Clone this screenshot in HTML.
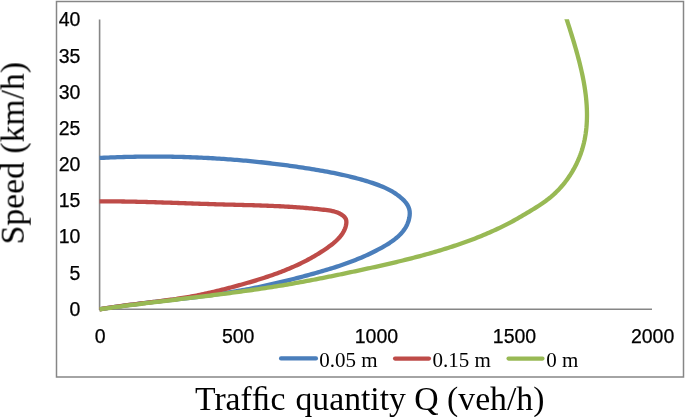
<!DOCTYPE html>
<html><head><meta charset="utf-8"><style>
html,body{margin:0;padding:0;background:#fff;width:685px;height:417px;overflow:hidden}
svg{display:block;will-change:transform}
.t{font-family:"Liberation Sans",sans-serif;font-size:19.5px;fill:#000;stroke:#000;stroke-width:0.25px}
.s{font-family:"Liberation Serif",serif;font-size:21px;fill:#000}
.ti{font-family:"Liberation Serif",serif;font-size:33.7px;fill:#000}
.c{fill:none;stroke-width:4.3;stroke-linecap:butt;stroke-linejoin:round}
.l{fill:none;stroke-width:4.1;stroke-linecap:round}
</style></head><body>
<svg width="685" height="417" viewBox="0 0 685 417">
<rect x="56.5" y="1.5" width="627" height="375.5" fill="#fff" stroke="#868686" stroke-width="1.5"/>
<path d="M99.6 19.5V309.2H652" fill="none" stroke="#868686" stroke-width="1.6"/>
<text x="80.4" y="315.8" text-anchor="end" class="t">0</text>
<text x="80.4" y="279.6" text-anchor="end" class="t">5</text>
<text x="80.4" y="243.4" text-anchor="end" class="t">10</text>
<text x="80.4" y="207.2" text-anchor="end" class="t">15</text>
<text x="80.4" y="171.1" text-anchor="end" class="t">20</text>
<text x="80.4" y="134.9" text-anchor="end" class="t">25</text>
<text x="80.4" y="98.7" text-anchor="end" class="t">30</text>
<text x="80.4" y="62.5" text-anchor="end" class="t">35</text>
<text x="80.4" y="26.3" text-anchor="end" class="t">40</text>
<text x="100.1" y="343.4" text-anchor="middle" class="t">0</text>
<text x="238.2" y="343.4" text-anchor="middle" class="t">500</text>
<text x="376.4" y="343.4" text-anchor="middle" class="t">1000</text>
<text x="514.5" y="343.4" text-anchor="middle" class="t">1500</text>
<text x="652.6" y="343.4" text-anchor="middle" class="t">2000</text>
<defs><clipPath id="pa"><rect x="0" y="19.3" width="685" height="300"/></clipPath></defs><g clip-path="url(#pa)">
<path d="M99.50 309.35 L101.70 308.99 L103.90 308.64 L106.10 308.29 L108.30 307.95 L110.50 307.62 L112.70 307.29 L114.90 306.97 L117.10 306.65 L119.30 306.34 L121.50 306.04 L123.70 305.74 L125.90 305.44 L128.10 305.15 L130.30 304.86 L132.50 304.58 L134.71 304.30 L136.91 304.03 L139.11 303.75 L141.31 303.48 L143.51 303.22 L145.71 302.95 L147.92 302.69 L150.12 302.43 L152.32 302.18 L154.52 301.92 L156.72 301.67 L158.92 301.41 L161.13 301.16 L163.33 300.91 L165.53 300.66 L167.73 300.40 L169.93 300.15 L172.13 299.90 L174.33 299.65 L176.53 299.39 L178.73 299.14 L180.93 298.88 L183.13 298.63 L185.33 298.37 L187.53 298.11 L189.73 297.84 L191.93 297.58 L194.13 297.31 L196.33 297.04 L198.52 296.76 L200.72 296.48 L202.92 296.20 L205.11 295.91 L207.31 295.62 L209.51 295.33 L211.70 295.03 L213.89 294.73 L216.09 294.42 L218.28 294.10 L220.48 293.78 L222.67 293.45 L224.86 293.12 L227.05 292.78 L229.24 292.44 L231.43 292.09 L233.62 291.73 L235.81 291.36 L238.00 290.98 L240.19 290.60 L242.37 290.21 L244.56 289.81 L246.75 289.41 L248.93 288.99 L251.11 288.57 L253.30 288.14 L255.48 287.71 L257.66 287.26 L259.84 286.81 L262.01 286.35 L264.19 285.89 L266.37 285.42 L268.54 284.94 L270.71 284.45 L272.88 283.96 L275.05 283.46 L277.22 282.96 L279.38 282.45 L281.55 281.94 L283.71 281.41 L285.87 280.89 L288.02 280.35 L290.18 279.82 L292.33 279.27 L294.48 278.73 L296.63 278.17 L298.77 277.61 L300.92 277.05 L303.06 276.48 L305.20 275.91 L307.33 275.33 L309.46 274.75 L311.59 274.17 L313.72 273.58 L315.84 272.99 L317.96 272.39 L320.08 271.78 L322.19 271.17 L324.31 270.55 L326.41 269.93 L328.52 269.29 L330.62 268.65 L332.72 267.99 L334.81 267.33 L336.90 266.65 L338.99 265.96 L341.07 265.26 L343.15 264.55 L345.23 263.82 L347.30 263.07 L349.37 262.31 L351.44 261.54 L353.50 260.75 L355.56 259.94 L357.61 259.11 L359.66 258.27 L361.70 257.40 L363.74 256.52 L365.78 255.61 L367.81 254.68 L369.84 253.73 L371.87 252.76 L373.89 251.77 L375.90 250.75 L377.91 249.70 L379.92 248.63 L381.92 247.54 L383.91 246.41 L385.88 245.26 L387.83 244.07 L389.75 242.84 L391.63 241.57 L393.45 240.26 L395.22 238.90 L396.93 237.49 L398.57 236.03 L400.13 234.51 L401.60 232.94 L402.97 231.30 L404.24 229.60 L405.41 227.83 L406.45 225.99 L407.37 224.07 L408.16 222.08 L408.81 220.01 L409.30 217.85 L409.64 215.62 L409.77 213.36 L409.64 211.13 L409.20 208.99 L408.47 206.96 L407.48 205.03 L406.26 203.21 L404.86 201.48 L403.31 199.84 L401.65 198.29 L399.92 196.82 L398.15 195.44 L396.33 194.13 L394.47 192.90 L392.58 191.73 L390.65 190.63 L388.69 189.59 L386.70 188.60 L384.69 187.67 L382.66 186.78 L380.60 185.93 L378.53 185.13 L376.44 184.36 L374.34 183.62 L372.23 182.91 L370.11 182.22 L367.99 181.55 L365.86 180.90 L363.73 180.27 L361.60 179.65 L359.46 179.05 L357.32 178.46 L355.18 177.90 L353.03 177.34 L350.88 176.80 L348.72 176.28 L346.57 175.77 L344.41 175.27 L342.24 174.78 L340.08 174.31 L337.91 173.85 L335.74 173.40 L333.57 172.96 L331.39 172.53 L329.22 172.11 L327.04 171.70 L324.86 171.30 L322.68 170.91 L320.50 170.52 L318.31 170.15 L316.13 169.78 L313.94 169.41 L311.75 169.06 L309.56 168.70 L307.37 168.36 L305.18 168.02 L302.99 167.68 L300.80 167.35 L298.61 167.02 L296.41 166.70 L294.22 166.39 L292.02 166.08 L289.83 165.77 L287.63 165.47 L285.43 165.17 L283.23 164.88 L281.04 164.60 L278.84 164.32 L276.64 164.05 L274.44 163.78 L272.23 163.51 L270.03 163.25 L267.83 163.00 L265.63 162.75 L263.42 162.50 L261.22 162.26 L259.01 162.03 L256.81 161.80 L254.60 161.58 L252.40 161.36 L250.19 161.14 L247.98 160.94 L245.77 160.73 L243.56 160.53 L241.36 160.34 L239.15 160.15 L236.94 159.96 L234.73 159.79 L232.52 159.61 L230.30 159.44 L228.09 159.28 L225.88 159.12 L223.67 158.96 L221.45 158.81 L219.24 158.67 L217.03 158.53 L214.81 158.39 L212.60 158.26 L210.39 158.14 L208.17 158.02 L205.96 157.90 L203.74 157.79 L201.52 157.69 L199.31 157.59 L197.09 157.49 L194.88 157.40 L192.66 157.31 L190.44 157.23 L188.23 157.16 L186.01 157.08 L183.79 157.02 L181.57 156.95 L179.36 156.90 L177.14 156.84 L174.92 156.80 L172.70 156.75 L170.48 156.72 L168.26 156.68 L166.05 156.65 L163.83 156.63 L161.61 156.61 L159.39 156.59 L157.17 156.58 L154.95 156.58 L152.73 156.58 L150.52 156.58 L148.30 156.59 L146.08 156.61 L143.86 156.62 L141.64 156.65 L139.42 156.67 L137.20 156.71 L134.98 156.74 L132.77 156.78 L130.55 156.83 L128.33 156.88 L126.11 156.94 L123.89 157.00 L121.68 157.06 L119.46 157.13 L117.24 157.21 L115.02 157.28 L112.81 157.37 L110.59 157.45 L108.37 157.55 L106.15 157.64 L103.94 157.74 L101.72 157.85 L99.51 157.96" class="c" stroke="#4A7EBB"/>
<path d="M99.52 309.32 L101.25 309.01 L102.98 308.71 L104.71 308.42 L106.44 308.14 L108.18 307.86 L109.91 307.59 L111.65 307.33 L113.38 307.07 L115.12 306.82 L116.85 306.57 L118.59 306.32 L120.33 306.08 L122.06 305.85 L123.80 305.62 L125.54 305.39 L127.28 305.17 L129.02 304.94 L130.75 304.72 L132.49 304.51 L134.23 304.29 L135.97 304.08 L137.71 303.87 L139.45 303.66 L141.19 303.45 L142.93 303.24 L144.67 303.03 L146.41 302.83 L148.14 302.62 L149.88 302.41 L151.62 302.20 L153.36 301.99 L155.10 301.78 L156.83 301.56 L158.57 301.35 L160.31 301.13 L162.05 300.91 L163.78 300.68 L165.52 300.46 L167.25 300.23 L168.99 299.99 L170.72 299.75 L172.45 299.51 L174.19 299.26 L175.92 299.01 L177.65 298.75 L179.38 298.49 L181.11 298.22 L182.84 297.94 L184.57 297.66 L186.30 297.37 L188.02 297.08 L189.75 296.77 L191.47 296.46 L193.20 296.15 L194.92 295.82 L196.64 295.49 L198.36 295.14 L200.08 294.80 L201.80 294.44 L203.51 294.08 L205.23 293.71 L206.95 293.33 L208.66 292.95 L210.37 292.56 L212.08 292.17 L213.79 291.77 L215.50 291.36 L217.21 290.95 L218.92 290.53 L220.62 290.11 L222.32 289.69 L224.03 289.25 L225.73 288.82 L227.43 288.38 L229.13 287.93 L230.82 287.48 L232.52 287.03 L234.21 286.57 L235.91 286.11 L237.60 285.65 L239.29 285.18 L240.98 284.71 L242.66 284.24 L244.35 283.77 L246.03 283.29 L247.71 282.80 L249.40 282.32 L251.07 281.82 L252.75 281.33 L254.42 280.83 L256.10 280.32 L257.77 279.81 L259.43 279.29 L261.10 278.77 L262.76 278.24 L264.42 277.70 L266.08 277.16 L267.73 276.61 L269.38 276.05 L271.03 275.49 L272.67 274.92 L274.32 274.34 L275.95 273.75 L277.59 273.15 L279.22 272.54 L280.85 271.92 L282.47 271.30 L284.09 270.66 L285.71 270.01 L287.32 269.36 L288.93 268.69 L290.53 268.01 L292.13 267.32 L293.73 266.62 L295.32 265.90 L296.91 265.18 L298.49 264.44 L300.07 263.69 L301.64 262.92 L303.21 262.15 L304.77 261.35 L306.33 260.55 L307.88 259.73 L309.43 258.90 L310.97 258.05 L312.51 257.18 L314.04 256.31 L315.56 255.41 L317.08 254.50 L318.60 253.57 L320.10 252.63 L321.61 251.67 L323.10 250.70 L324.59 249.70 L326.07 248.69 L327.55 247.66 L329.02 246.61 L330.47 245.55 L331.89 244.45 L333.29 243.33 L334.65 242.19 L335.97 241.01 L337.24 239.80 L338.46 238.56 L339.61 237.28 L340.70 235.97 L341.72 234.61 L342.66 233.21 L343.51 231.77 L344.27 230.28 L344.94 228.74 L345.50 227.16 L345.95 225.52 L346.27 223.83 L346.40 222.14 L346.26 220.49 L345.79 218.93 L344.92 217.51 L343.72 216.22 L342.28 215.09 L340.72 214.10 L339.11 213.25 L337.46 212.54 L335.79 211.94 L334.10 211.45 L332.38 211.04 L330.65 210.70 L328.91 210.42 L327.16 210.17 L325.40 209.95 L323.65 209.75 L321.89 209.54 L320.14 209.35 L318.39 209.16 L316.63 208.98 L314.88 208.80 L313.13 208.63 L311.37 208.46 L309.62 208.30 L307.87 208.14 L306.12 207.99 L304.36 207.85 L302.61 207.71 L300.86 207.57 L299.11 207.44 L297.36 207.31 L295.61 207.19 L293.86 207.07 L292.11 206.96 L290.36 206.85 L288.61 206.74 L286.86 206.64 L285.11 206.55 L283.36 206.45 L281.61 206.36 L279.86 206.27 L278.11 206.19 L276.36 206.11 L274.61 206.03 L272.86 205.95 L271.12 205.88 L269.37 205.81 L267.62 205.74 L265.87 205.68 L264.12 205.61 L262.37 205.55 L260.63 205.49 L258.88 205.43 L257.13 205.38 L255.38 205.32 L253.63 205.27 L251.88 205.22 L250.14 205.17 L248.39 205.12 L246.64 205.07 L244.89 205.03 L243.14 204.98 L241.39 204.93 L239.64 204.89 L237.90 204.84 L236.15 204.80 L234.40 204.75 L232.65 204.71 L230.90 204.67 L229.15 204.62 L227.40 204.57 L225.65 204.53 L223.90 204.48 L222.15 204.44 L220.40 204.39 L218.65 204.34 L216.90 204.29 L215.15 204.24 L213.40 204.18 L211.65 204.13 L209.90 204.08 L208.14 204.02 L206.39 203.96 L204.64 203.91 L202.89 203.85 L201.14 203.79 L199.38 203.73 L197.63 203.68 L195.88 203.62 L194.13 203.56 L192.37 203.50 L190.62 203.44 L188.87 203.38 L187.12 203.32 L185.36 203.25 L183.61 203.19 L181.86 203.13 L180.10 203.07 L178.35 203.01 L176.60 202.95 L174.84 202.89 L173.09 202.83 L171.34 202.77 L169.58 202.71 L167.83 202.66 L166.08 202.60 L164.32 202.54 L162.57 202.48 L160.82 202.43 L159.06 202.37 L157.31 202.32 L155.56 202.26 L153.80 202.21 L152.05 202.16 L150.30 202.11 L148.54 202.06 L146.79 202.01 L145.04 201.96 L143.29 201.92 L141.53 201.87 L139.78 201.83 L138.03 201.79 L136.27 201.75 L134.52 201.71 L132.77 201.67 L131.02 201.64 L129.27 201.60 L127.51 201.57 L125.76 201.54 L124.01 201.51 L122.26 201.49 L120.51 201.46 L118.76 201.44 L117.01 201.42 L115.26 201.40 L113.51 201.39 L111.76 201.37 L110.01 201.36 L108.26 201.35 L106.51 201.35 L104.76 201.34 L103.01 201.34 L101.26 201.34 L99.51 201.35" class="c" stroke="#BE4B48"/>
<path d="M99.53 309.31 L101.74 309.00 L103.94 308.68 L106.15 308.37 L108.35 308.07 L110.56 307.76 L112.76 307.46 L114.97 307.16 L117.18 306.86 L119.39 306.57 L121.60 306.28 L123.81 305.99 L126.01 305.70 L128.22 305.42 L130.43 305.13 L132.64 304.85 L134.85 304.57 L137.06 304.30 L139.28 304.02 L141.49 303.75 L143.70 303.47 L145.91 303.20 L148.12 302.93 L150.33 302.66 L152.55 302.40 L154.76 302.13 L156.97 301.86 L159.18 301.60 L161.40 301.33 L163.61 301.07 L165.82 300.81 L168.03 300.54 L170.25 300.28 L172.46 300.02 L174.67 299.76 L176.89 299.50 L179.10 299.23 L181.31 298.97 L183.52 298.71 L185.74 298.45 L187.95 298.19 L190.16 297.92 L192.38 297.66 L194.59 297.40 L196.80 297.13 L199.01 296.86 L201.23 296.60 L203.44 296.33 L205.65 296.06 L207.86 295.79 L210.07 295.52 L212.29 295.25 L214.50 294.97 L216.71 294.70 L218.92 294.42 L221.13 294.14 L223.34 293.86 L225.55 293.58 L227.76 293.29 L229.97 293.01 L232.18 292.72 L234.38 292.43 L236.59 292.13 L238.80 291.84 L241.01 291.54 L243.22 291.24 L245.42 290.93 L247.63 290.63 L249.83 290.32 L252.04 290.00 L254.24 289.69 L256.45 289.37 L258.65 289.05 L260.86 288.72 L263.06 288.39 L265.26 288.06 L267.46 287.72 L269.66 287.38 L271.86 287.04 L274.06 286.69 L276.26 286.34 L278.46 285.98 L280.66 285.62 L282.86 285.26 L285.05 284.89 L287.25 284.52 L289.44 284.14 L291.64 283.76 L293.83 283.37 L296.03 282.98 L298.22 282.59 L300.41 282.19 L302.60 281.79 L304.79 281.39 L306.98 280.98 L309.17 280.57 L311.36 280.15 L313.55 279.74 L315.74 279.31 L317.92 278.89 L320.11 278.46 L322.30 278.03 L324.48 277.60 L326.67 277.16 L328.85 276.72 L331.04 276.28 L333.22 275.84 L335.40 275.39 L337.59 274.94 L339.77 274.49 L341.95 274.04 L344.13 273.58 L346.31 273.13 L348.49 272.67 L350.67 272.21 L352.85 271.75 L355.03 271.28 L357.21 270.82 L359.38 270.35 L361.56 269.88 L363.74 269.41 L365.91 268.94 L368.09 268.47 L370.27 267.99 L372.44 267.52 L374.61 267.03 L376.79 266.55 L378.96 266.07 L381.13 265.58 L383.30 265.08 L385.47 264.59 L387.64 264.09 L389.81 263.59 L391.98 263.08 L394.14 262.57 L396.31 262.05 L398.47 261.53 L400.64 261.01 L402.80 260.48 L404.96 259.95 L407.12 259.41 L409.28 258.86 L411.43 258.31 L413.59 257.76 L415.74 257.20 L417.90 256.63 L420.05 256.06 L422.20 255.48 L424.35 254.89 L426.50 254.30 L428.64 253.70 L430.79 253.10 L432.93 252.48 L435.07 251.86 L437.21 251.23 L439.35 250.60 L441.48 249.95 L443.61 249.30 L445.74 248.64 L447.87 247.97 L449.99 247.30 L452.12 246.61 L454.23 245.91 L456.35 245.21 L458.46 244.49 L460.57 243.77 L462.67 243.03 L464.77 242.29 L466.87 241.53 L468.96 240.76 L471.04 239.99 L473.13 239.20 L475.20 238.40 L477.28 237.58 L479.34 236.76 L481.41 235.92 L483.46 235.08 L485.51 234.21 L487.56 233.34 L489.60 232.45 L491.63 231.55 L493.66 230.64 L495.68 229.71 L497.69 228.77 L499.70 227.82 L501.70 226.85 L503.69 225.87 L505.68 224.87 L507.66 223.86 L509.63 222.83 L511.59 221.78 L513.55 220.73 L515.49 219.65 L517.43 218.56 L519.37 217.46 L521.30 216.35 L523.22 215.22 L525.13 214.09 L527.05 212.95 L528.95 211.80 L530.86 210.65 L532.76 209.49 L534.66 208.32 L536.54 207.13 L538.41 205.94 L540.27 204.72 L542.12 203.47 L543.94 202.21 L545.74 200.91 L547.52 199.58 L549.27 198.21 L551.00 196.80 L552.69 195.35 L554.35 193.86 L555.97 192.32 L557.56 190.74 L559.12 189.13 L560.64 187.47 L562.12 185.79 L563.56 184.06 L564.97 182.30 L566.34 180.51 L567.66 178.69 L568.95 176.84 L570.20 174.97 L571.40 173.07 L572.57 171.14 L573.69 169.19 L574.76 167.22 L575.79 165.23 L576.78 163.22 L577.72 161.19 L578.61 159.15 L579.46 157.09 L580.26 155.02 L581.01 152.94 L581.71 150.85 L582.36 148.75 L582.96 146.64 L583.52 144.52 L584.04 142.40 L584.51 140.26 L584.93 138.12 L585.31 135.96 L585.66 133.80 L585.96 131.64 L586.21 129.46 L586.44 127.29 L586.62 125.10 L586.76 122.91 L586.87 120.71 L586.94 118.51 L586.98 116.31 L586.98 114.10 L586.95 111.89 L586.89 109.67 L586.79 107.45 L586.67 105.23 L586.51 103.01 L586.33 100.78 L586.12 98.56 L585.88 96.33 L585.61 94.10 L585.32 91.87 L585.01 89.64 L584.67 87.41 L584.31 85.18 L583.92 82.96 L583.52 80.73 L583.09 78.51 L582.65 76.29 L582.18 74.07 L581.70 71.85 L581.20 69.64 L580.69 67.43 L580.16 65.23 L579.62 63.03 L579.06 60.83 L578.49 58.64 L577.91 56.46 L577.32 54.28 L576.71 52.11 L576.10 49.94 L575.48 47.78 L574.86 45.63 L574.22 43.49 L573.59 41.35 L572.94 39.22 L572.30 37.10 L571.64 34.99 L570.99 32.89 L570.34 30.80 L569.68 28.72 L569.03 26.66 L568.38 24.60 L567.73 22.55 L567.08 20.52 L566.44 18.49 L565.80 16.48 L565.17 14.49" class="c" stroke="#98B954"/>
</g>
<path d="M281 358.4H316" class="l" stroke="#4A7EBB"/>
<text x="319.2" y="367.4" class="s">0.05 m</text>
<path d="M395 358.6H429" class="l" stroke="#BE4B48"/>
<text x="432.4" y="367.4" class="s">0.15 m</text>
<path d="M508.5 358.6H542.5" class="l" stroke="#98B954"/>
<text x="546.2" y="367.4" class="s">0 m</text>
<text x="195" y="409.5" class="ti">Traf&#xFB01;c<tspan dx="1.6"> quantity Q (veh/h)</tspan></text>
<text transform="translate(23.7,244.4) rotate(-90)" x="0" y="0" class="ti">Speed (km/h)</text>
</svg>
</body></html>
